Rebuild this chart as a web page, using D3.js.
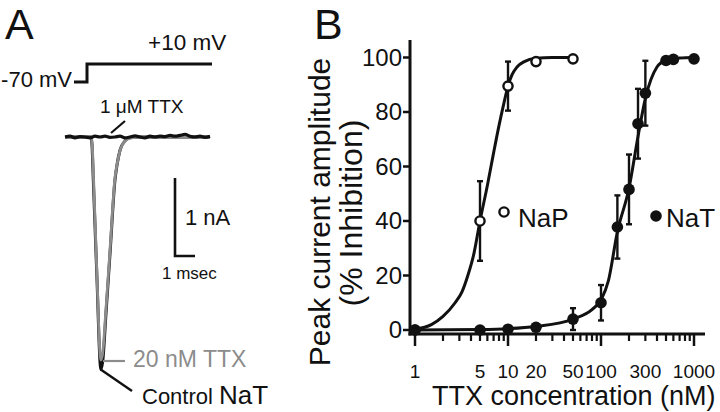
<!DOCTYPE html>
<html>
<head>
<meta charset="utf-8">
<script src="https://cdn.jsdelivr.net/npm/d3@7/dist/d3.min.js"></script>
<style>
  html, body { margin: 0; padding: 0; background: #fff; }
  svg { display: block; }
  text { font-family: "Liberation Sans", Arial, Helvetica, sans-serif; fill: #111; }
</style>
</head>
<body>
<svg id="chart" width="720" height="412"></svg>
<script>
// ---------- Panel B data ----------
const napConc = [1, 5, 10, 20, 50];
const napInhib = [0, 40, 89.5, 98.5, 99.5];
const napErr = [0, 14.6, 9, 0, 0];

const natConc = [1, 5, 10, 20, 50, 100, 150, 200, 250, 300, 500, 600, 1000];
const natInhib = [0, 0, 0.3, 1, 4, 10, 37.8, 51.6, 75.7, 86.9, 98.9, 99.3, 99.5];
const natErr = [0, 0, 0, 0, 4, 6.5, 11.6, 12.8, 12.8, 11.9, 0, 0, 0];

// fitted curves
const napFitConc = [1, 1.5, 2, 2.7, 3.2, 3.7, 4.3, 5, 6, 7, 8, 9, 10, 11, 12.5, 15, 20, 30, 50];
const napFitVal  = [0.3, 2, 5, 10, 14, 20, 28, 40, 53, 65, 75, 83, 89.5, 93.5, 96.5, 98.5, 99.7, 100, 100];
const natFitConc = [1, 5, 10, 20, 50, 80, 100, 120, 150, 200, 250, 300, 400, 500, 700, 1000];
const natFitVal  = [0, 0.2, 0.5, 1.3, 4, 7.5, 11, 18, 36, 52, 71, 85, 96.5, 99, 99.8, 100];

const xTickLabels = [1, 5, 10, 20, 50, 100, 300, 1000];
const yTickLabels = [0, 20, 40, 60, 80, 100];
const minorTicks = [2,3,4,5,6,7,8,9,20,30,40,50,60,70,80,90,200,300,400,500,600,700,800,900];
const majorTicks = [1, 10, 100, 1000];

// ---------- Panel A data ----------
// time in ms, current in nA
const ctrlT = [0, 1.3, 1.35, 1.415, 1.6, 1.75, 1.785, 1.885, 2.05, 2.25, 2.5, 2.6, 2.75, 3.0, 3.25, 3.75, 7.25];
const ctrlI = [0, 0, -0.1, -0.55, -1.83, -2.88, -2.98, -2.88, -2.26, -1.5, -0.55, -0.36, -0.17, -0.05, -0.01, 0, 0];
const ttx20T = [0, 1.3, 1.36, 1.43, 1.6, 1.75, 1.79, 1.88, 2.05, 2.25, 2.5, 2.62, 2.78, 3.05, 3.3, 3.8, 7.25];
const ttx20I = [0, 0, -0.1, -0.55, -1.78, -2.78, -2.86, -2.78, -2.2, -1.45, -0.52, -0.33, -0.15, -0.04, -0.01, 0, 0];
const ttx1T = [0, 0.25, 0.5, 0.75, 1, 1.25, 1.5, 1.75, 2, 2.25, 2.5, 2.75, 3, 3.25, 3.5, 3.75, 4, 4.25, 4.5, 4.75, 5, 5.25, 5.5, 5.75, 6, 6.25, 6.5, 6.75, 7, 7.25];
const ttx1I = [0, 0.01, -0.01, 0.005, 0, -0.01, 0.01, 0, 0.01, -0.005, 0, 0.01, -0.01, 0, 0.015, 0, -0.01, 0.01, 0, 0.01, 0.005, 0.02, 0.01, 0.02, 0.035, 0.01, 0, 0.01, -0.005, 0.01];
const stepT = [0.45, 1.1, 1.1, 7.35];
const stepV = [-70, -70, 10, 10];

const svg = d3.select("#chart");
const ink = "#111";
const grey = "#8c8c8c";

// ================= Panel A =================
svg.append("text").attr("x", 5).attr("y", 39).style("font-size", "43px").text("A");

const xA = d3.scaleLinear().domain([0, 7.25]).range([65, 210]);
const yA = d3.scaleLinear().domain([0, -3]).range([137, 371]);
const yV = d3.scaleLinear().domain([-70, 10]).range([82, 64]);

svg.append("path")
  .attr("d", d3.line().x((d, i) => xA(stepT[i])).y((d, i) => yV(stepV[i]))(stepT))
  .attr("fill", "none").attr("stroke", ink).attr("stroke-width", 3);
svg.append("text").attr("x", 72).attr("y", 87).attr("text-anchor", "end").style("font-size", "22px").text("-70 mV");
svg.append("text").attr("x", 148).attr("y", 50).style("font-size", "22.5px").text("+10 mV");

const traceLine = (T, I) => d3.line().curve(d3.curveMonotoneX).x((d, i) => xA(T[i])).y((d, i) => yA(I[i]))(T);
svg.append("path").attr("d", traceLine(ctrlT, ctrlI)).attr("fill", "none").attr("stroke", ink).attr("stroke-width", 3);
svg.append("path").attr("d", traceLine(ttx20T, ttx20I)).attr("fill", "none").attr("stroke", grey).attr("stroke-width", 2.8);
svg.append("path").attr("d", traceLine(ttx1T, ttx1I)).attr("fill", "none").attr("stroke", ink).attr("stroke-width", 3.2);

// labels
svg.append("text").attr("x", 100).attr("y", 113).style("font-size", "19px").text("1 \u03BCM TTX");
svg.append("line").attr("x1", 111).attr("y1", 133).attr("x2", 125).attr("y2", 121).attr("stroke", ink).attr("stroke-width", 2.2);

svg.append("line").attr("x1", xA(1.9)).attr("y1", 361).attr("x2", 125).attr("y2", 361).attr("stroke", grey).attr("stroke-width", 2.2);
svg.append("text").attr("x", 133).attr("y", 367).style("font-size", "23px").style("fill", grey).text("20 nM TTX");

svg.append("line").attr("x1", xA(1.785)).attr("y1", yA(-2.98)).attr("x2", 132).attr("y2", 391).attr("stroke", ink).attr("stroke-width", 2.4);
const ctl = svg.append("text").attr("x", 142).attr("y", 404);
ctl.append("tspan").style("font-size", "22px").text("Control ");
ctl.append("tspan").style("font-size", "26px").text("NaT");

// scale bar: 1 nA x 1 msec
const sbX = 175, sbY = 256;
const nA = yA(-1) - yA(0);
const ms = xA(1) - xA(0);
svg.append("path").attr("d", `M${sbX},${sbY - nA}V${sbY}H${sbX + ms}`)
  .attr("fill", "none").attr("stroke", ink).attr("stroke-width", 2.6);
svg.append("text").attr("x", 185).attr("y", 225).style("font-size", "22px").text("1 nA");
svg.append("text").attr("x", 162).attr("y", 279).style("font-size", "17px").text("1 msec");

// ================= Panel B =================
svg.append("text").attr("x", 314).attr("y", 39).style("font-size", "43px").text("B");

const xB = d3.scaleLog().domain([1, 1000]).range([415, 694]);
const yB = d3.scaleLinear().domain([0, 100]).range([330, 57.5]);
const axisY = 334;
const axisX = 410;

// y axis
svg.append("line").attr("x1", axisX).attr("x2", axisX).attr("y1", 40).attr("y2", axisY + 1.5)
  .attr("stroke", ink).attr("stroke-width", 3);
svg.selectAll(".yt").data(yTickLabels).join("line")
  .attr("x1", axisX - 7).attr("x2", axisX).attr("y1", d => yB(d)).attr("y2", d => yB(d))
  .attr("stroke", ink).attr("stroke-width", 2.5);
svg.selectAll(".ytl").data(yTickLabels).join("text")
  .attr("x", axisX - 8).attr("y", d => yB(d)).attr("dy", "0.35em").attr("text-anchor", "end")
  .style("font-size", "24px").text(d => d);

// x axis
svg.append("line").attr("x1", axisX - 1.5).attr("x2", 705).attr("y1", axisY).attr("y2", axisY)
  .attr("stroke", ink).attr("stroke-width", 3);
svg.selectAll(".xmaj").data(majorTicks).join("line")
  .attr("x1", d => xB(d)).attr("x2", d => xB(d)).attr("y1", axisY).attr("y2", axisY + 12)
  .attr("stroke", ink).attr("stroke-width", 2.5);
svg.selectAll(".xmin").data(minorTicks).join("line")
  .attr("x1", d => xB(d)).attr("x2", d => xB(d)).attr("y1", axisY).attr("y2", axisY + 7)
  .attr("stroke", ink).attr("stroke-width", 2.2);
svg.selectAll(".xtl").data(xTickLabels).join("text")
  .attr("x", d => xB(d)).attr("y", 378).attr("text-anchor", "middle")
  .style("font-size", "19px").text(d => d);

svg.append("text").attr("x", 432).attr("y", 405).style("font-size", "27px").text("TTX concentration (nM)");
svg.append("text").attr("transform", "translate(330,212) rotate(-90)").attr("text-anchor", "middle")
  .style("font-size", "30px").text("Peak current amplitude");
svg.append("text").attr("transform", "translate(362,213) rotate(-90)").attr("text-anchor", "middle")
  .style("font-size", "32px").text("(% Inhibition)");

// fit curves
const fitLine = (C, V) => d3.line().curve(d3.curveMonotoneX).x((d, i) => xB(C[i])).y((d, i) => yB(V[i]))(C);
svg.append("path").attr("d", fitLine(napFitConc, napFitVal)).attr("fill", "none").attr("stroke", ink).attr("stroke-width", 3);
svg.append("path").attr("d", fitLine(natFitConc, natFitVal)).attr("fill", "none").attr("stroke", ink).attr("stroke-width", 3);

// error bars
function errBars(C, V, E) {
  const g = svg.append("g").attr("stroke", ink).attr("stroke-width", 2.4);
  C.forEach((c, i) => {
    if (!E[i]) return;
    const x = xB(c), y1 = yB(V[i] - E[i]), y2 = yB(V[i] + E[i]);
    g.append("line").attr("x1", x).attr("x2", x).attr("y1", y1).attr("y2", y2);
    g.append("line").attr("x1", x - 3).attr("x2", x + 3).attr("y1", y1).attr("y2", y1);
    g.append("line").attr("x1", x - 3).attr("x2", x + 3).attr("y1", y2).attr("y2", y2);
  });
}
errBars(napConc, napInhib, napErr);
errBars(natConc, natInhib, natErr);

// points
svg.selectAll(".nap").data(napConc).join("circle")
  .attr("cx", d => xB(d)).attr("cy", (d, i) => yB(napInhib[i])).attr("r", 4.6)
  .attr("fill", "#fff").attr("stroke", ink).attr("stroke-width", 2.4);
svg.selectAll(".nat").data(natConc).join("circle")
  .attr("cx", d => xB(d)).attr("cy", (d, i) => yB(natInhib[i])).attr("r", 5.8)
  .attr("fill", ink);

// legends
svg.append("circle").attr("cx", 504).attr("cy", 212).attr("r", 4.6).attr("fill", "#fff").attr("stroke", ink).attr("stroke-width", 2.4);
svg.append("text").attr("x", 518).attr("y", 227).style("font-size", "26px").text("NaP");
svg.append("circle").attr("cx", 656).attr("cy", 216).attr("r", 5.8).attr("fill", ink);
svg.append("text").attr("x", 666).attr("y", 227).style("font-size", "26px").text("NaT");
</script>
</body>
</html>
